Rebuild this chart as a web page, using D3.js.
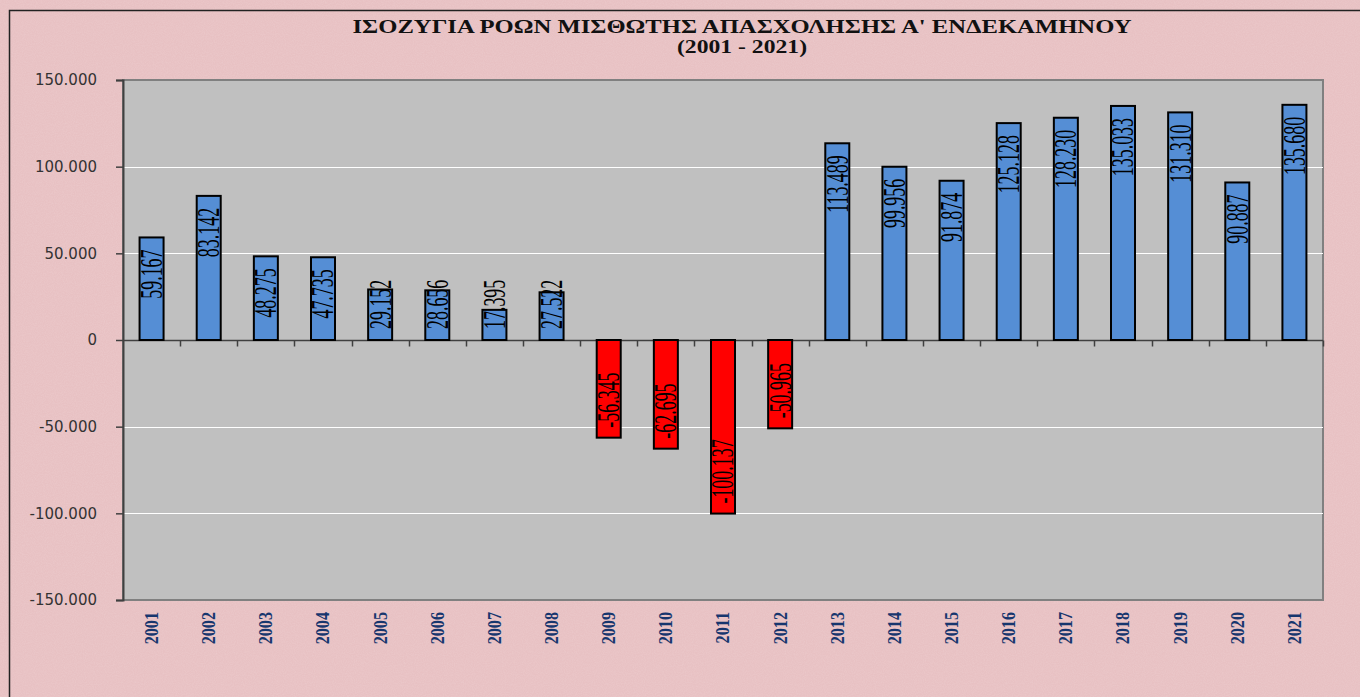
<!DOCTYPE html>
<html>
<head>
<meta charset="utf-8">
<script src="https://cdn.jsdelivr.net/npm/d3@7"></script>
<style>
  body { margin: 0; background: #e8c1c3; overflow: hidden; }
  svg { display: block; }
</style>
</head>
<body>
<div id="graphic"></div>
<script>
var years = ["2001","2002","2003","2004","2005","2006","2007","2008","2009","2010","2011","2012","2013","2014","2015","2016","2017","2018","2019","2020","2021"]
var balance = [59167, 83142, 48275, 47735, 29152, 28656, 17395, 27522, -56345, -62695, -100137, -50965, 113489, 99956, 91874, 125128, 128230, 135033, 131310, 90887, 135680]
var yTicks = [-150000, -100000, -50000, 0, 50000, 100000, 150000]
var titleLines = ["ΙΣΟΖΥΓΙΑ ΡΟΩΝ ΜΙΣΘΩΤΗΣ ΑΠΑΣΧΟΛΗΣΗΣ Α' ΕΝΔΕΚΑΜΗΝΟΥ", "(2001 - 2021)"]

var width = 1360, height = 697
var margins = {top: 80, bottom: 97, left: 123, right: 37}

function fmt(v){
	// greek style: dot as thousands separator, plain hyphen for minus
	return d3.format(",")(v).replace(/,/g, ".").replace("\u2212", "-")
}

var svg = d3.select("#graphic")
	.append("svg")
	.attr("width", width)
	.attr("height", height)

// paper texture
var defs = svg.append("defs")
var filt = defs.append("filter").attr("id", "grain").attr("x", 0).attr("y", 0).attr("width", "100%").attr("height", "100%")
filt.append("feTurbulence").attr("type", "fractalNoise").attr("baseFrequency", 0.9).attr("numOctaves", 2).attr("seed", 3).attr("result", "noise")
filt.append("feColorMatrix").attr("in", "noise").attr("type", "matrix")
	.attr("values", "0 0 0 0 1  0 0 0 0 1  0 0 0 0 1  0 0 0 0.28 -0.08")

svg.append("rect")
	.attr("width", width).attr("height", height)
	.attr("fill", "#e8c1c3")
svg.append("rect")
	.attr("width", width).attr("height", height)
	.attr("filter", "url(#grain)")
	.attr("opacity", 0.6)

// outer frame (top / left visible)
svg.append("path")
	.attr("d", "M9.5," + height + "V10.5H" + width)
	.attr("fill", "none")
	.attr("stroke", "#222")
	.attr("stroke-width", 1.5)

var x = d3.scaleBand()
	.domain(years)
	.range([margins.left, width - margins.right])
	.paddingInner(0.58)
	.paddingOuter(0.29)

var y = d3.scaleLinear()
	.domain([-150000, 150000])
	.range([height - margins.bottom, margins.top])

var plotW = width - margins.left - margins.right
var plotH = height - margins.top - margins.bottom

// plot area
svg.append("rect")
	.attr("x", margins.left).attr("y", margins.top)
	.attr("width", plotW).attr("height", plotH)
	.attr("fill", "#c0c0c0")
	.attr("stroke", "#808080")
	.attr("stroke-width", 2)

// gridlines
svg.append("g")
	.selectAll("line")
	.data(yTicks.filter(function(d){ return d != 0 && d != 150000 && d != -150000 }))
	.enter()
	.append("line")
	.attr("x1", margins.left).attr("x2", width - margins.right)
	.attr("y1", function(d){ return Math.round(y(d)) + 0.5 })
	.attr("y2", function(d){ return Math.round(y(d)) + 0.5 })
	.attr("stroke", "#ffffff")
	.attr("stroke-width", 1.2)

// y axis
var yAxis = svg.append("g")
	.attr("transform", "translate(" + margins.left + ",0)")
	.call(d3.axisLeft(y).tickValues(yTicks).tickSize(7).tickPadding(19).tickFormat(fmt))
yAxis.select(".domain").attr("stroke", "#404040").attr("stroke-width", 2)
yAxis.selectAll(".tick line").attr("stroke", "#404040").attr("stroke-width", 1.5)
yAxis.selectAll(".tick text")
	.attr("font-family", "'DejaVu Sans', Verdana, sans-serif")
	.attr("font-size", 15)
	.attr("fill", "#333")

// zero axis with category ticks
var zeroY = Math.round(y(0)) + 0.5
svg.append("line")
	.attr("x1", margins.left).attr("x2", width - margins.right)
	.attr("y1", zeroY).attr("y2", zeroY)
	.attr("stroke", "#404040").attr("stroke-width", 1.5)
svg.append("g")
	.selectAll("line")
	.data(years)
	.enter()
	.append("line")
	.attr("x1", function(d){ return Math.round(x(d) - x.step() * x.paddingInner() / 2 + x.step()) + 0.5 })
	.attr("x2", function(d){ return Math.round(x(d) - x.step() * x.paddingInner() / 2 + x.step()) + 0.5 })
	.attr("y1", zeroY).attr("y2", zeroY + 6)
	.attr("stroke", "#404040").attr("stroke-width", 1.5)

// bars
var data = years.map(function(yr, i){ return {year: yr, value: balance[i]} })

svg.append("g")
	.selectAll("rect")
	.data(data)
	.enter()
	.append("rect")
	.attr("x", function(d){ return x(d.year) })
	.attr("width", x.bandwidth())
	.attr("y", function(d){ return y(Math.max(0, d.value)) })
	.attr("height", function(d){ return Math.abs(y(d.value) - y(0)) })
	.attr("fill", function(d){ return d.value < 0 ? "#ff0000" : "#558ed5" })
	.attr("stroke", "#000")
	.attr("stroke-width", 2)

// value labels, rotated and condensed
var labelScale = 0.56
var labels = svg.append("g")
	.selectAll("text")
	.data(data)
	.enter()
	.append("text")
	.attr("font-family", "'Liberation Serif', 'Times New Roman', serif")
	.attr("font-size", 32)
	.attr("fill", "#000")
	.attr("dominant-baseline", "central")
	.text(function(d){ return fmt(d.value) })

labels.each(function(d){
	var len = this.getComputedTextLength() * labelScale
	var cx = x(d.year) + x.bandwidth() / 2
	var bottom
	if(d.value >= 0){
		var top = y(d.value) + 12
		if(top + len > y(0) - 11){ top = y(0) - 11 - len }
		bottom = top + len
	}else{
		bottom = y(d.value) - 10
	}
	d3.select(this)
		.attr("text-anchor", "start")
		.attr("transform", "translate(" + cx + "," + bottom + ") rotate(-90) scale(" + labelScale + ",1)")
})

// year labels
svg.append("g")
	.selectAll("text")
	.data(years)
	.enter()
	.append("text")
	.attr("font-family", "'Liberation Serif', 'Times New Roman', serif")
	.attr("font-weight", "bold")
	.attr("font-size", 19)
	.attr("fill", "#17366e")
	.attr("text-anchor", "end")
	.attr("dominant-baseline", "central")
	.attr("transform", function(d){ return "translate(" + (x(d) + x.bandwidth() / 2) + "," + (height - margins.bottom + 12) + ") rotate(-90) scale(0.85,1)" })
	.text(function(d){ return d })

// title, stretched wide like the original
var titleWidths = [779, 130]
svg.append("g")
	.selectAll("text")
	.data(titleLines)
	.enter()
	.append("text")
	.attr("x", function(d, i){ return 742 - titleWidths[i] / 2 })
	.attr("y", function(d, i){ return 33 + i * 20 })
	.attr("textLength", function(d, i){ return titleWidths[i] })
	.attr("lengthAdjust", "spacingAndGlyphs")
	.attr("font-family", "'Liberation Serif', 'Times New Roman', serif")
	.attr("font-weight", "bold")
	.attr("font-size", 18)
	.attr("fill", "#111")
	.text(function(d){ return d })
</script>
</body>
</html>
